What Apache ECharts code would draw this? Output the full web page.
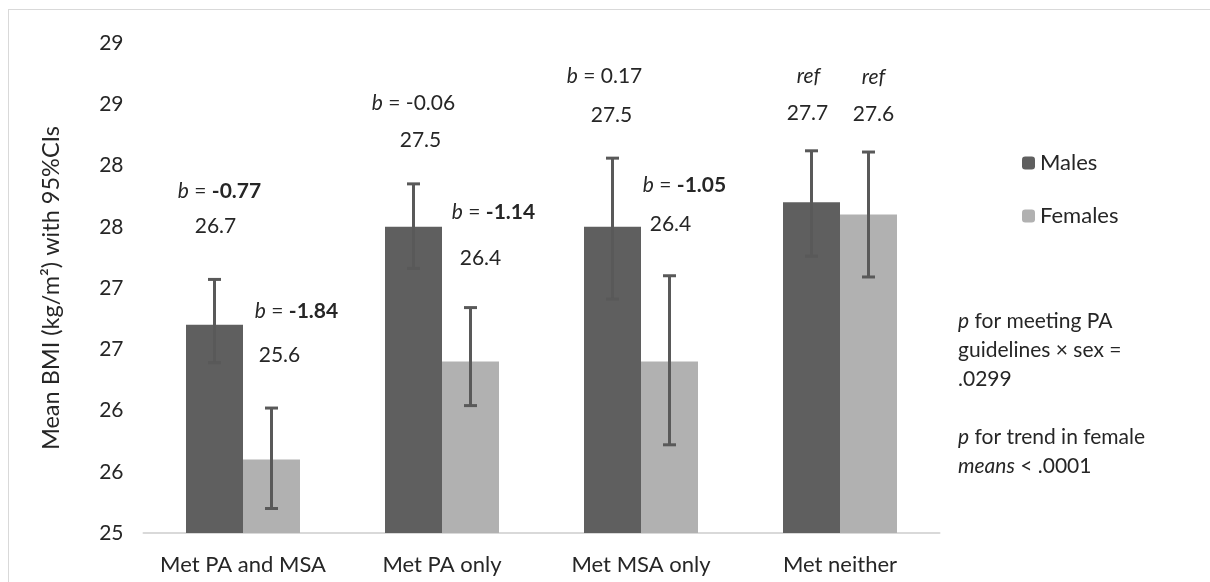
<!DOCTYPE html>
<html>
<head>
<meta charset="utf-8">
<script src="https://cdn.jsdelivr.net/npm/echarts@6/dist/echarts.min.js"></script>
<style>
html, body { margin: 0; padding: 0; background: #fff; }
#frame { position: absolute; left: 8px; top: 9px; width: 1300px; height: 700px; border: 1px solid #d9d9d9; }
#main { position: absolute; left: 0; top: 0; width: 1210px; height: 582px; }
</style>
</head>
<body>
<div id="frame"></div>
<div id="main"></div>
<script>
// categories and values
var categories = ['Met PA and MSA', 'Met PA only', 'Met MSA only', 'Met neither'];
var maleMeans = [26.7, 27.5, 27.5, 27.7];
var femaleMeans = [25.6, 26.4, 26.4, 27.6];
var maleLow = [26.39, 27.16, 26.91, 27.26];
var maleHigh = [27.07, 27.85, 28.06, 28.12];
var femaleLow = [25.20, 26.04, 25.72, 27.09];
var femaleHigh = [26.02, 26.84, 27.10, 28.11];
// b coefficients (null = reference group), bold when significant
var maleB = ['-0.77', '-0.06', '0.17', null];
var femaleB = ['-1.84', '-1.14', '-1.05', null];
var maleSig = [true, false, false, false];
var femaleSig = [true, true, true, false];

// label placement relative to bar top (as moved by hand in the original)
var maleBOffset = [[5, -134], [0, -124], [-8, -151], [-3, -126]];
var maleMOffset = [[1, -99], [7, -87], [-1, -112], [-4, -89]];
var femaleBOffset = [[25, -148], [23, -149], [15, -176], [5, -137]];
var femaleMOffset = [[8, -104], [10, -103], [1, -137], [5, -100]];

var FONT = 'Lato';
var TXT = '#262626';
var BAR_W = 57;

var chart = echarts.init(document.getElementById('main'));

function bText(v, sig) {
    if (v === null) return '{i|ref}';
    return '{i|b} = ' + (sig ? '{bd|' + v + '}' : v);
}

function errSeries(name, means, lo, hi, bs, sig, bOff, mOff, shift) {
    var data = means.map(function (m, i) { return [i, lo[i], hi[i], m]; });
    return {
        name: name + ' CI',
        type: 'custom',
        z: 5,
        silent: true,
        data: data,
        renderItem: function (params, api) {
            var k = params.dataIndex;
            var pLo = api.coord([api.value(0), api.value(1)]);
            var pHi = api.coord([api.value(0), api.value(2)]);
            var pM = api.coord([api.value(0), api.value(3)]);
            var x = pLo[0] + shift;
            var st = { stroke: '#595959', lineWidth: 3 };
            return {
                type: 'group',
                children: [
                    { type: 'line', shape: { x1: x, y1: pLo[1], x2: x, y2: pHi[1] }, style: st },
                    { type: 'line', shape: { x1: x - 6.5, y1: pLo[1], x2: x + 6.5, y2: pLo[1] }, style: st },
                    { type: 'line', shape: { x1: x - 6.5, y1: pHi[1], x2: x + 6.5, y2: pHi[1] }, style: st },
                    {
                        type: 'text',
                        x: x + bOff[k][0], y: pM[1] + bOff[k][1],
                        style: {
                            text: bText(bs[k], sig[k]),
                            fill: TXT, fontFamily: FONT, fontSize: 21,
                            align: 'center', verticalAlign: 'middle',
                            rich: {
                                i: { fontStyle: 'italic', fontFamily: FONT, fontSize: 21, fill: TXT },
                                bd: { fontWeight: 'bold', fontFamily: FONT, fontSize: 21, fill: TXT }
                            }
                        }
                    },
                    {
                        type: 'text',
                        x: x + mOff[k][0], y: pM[1] + mOff[k][1],
                        style: {
                            text: api.value(3).toFixed(1),
                            fill: TXT, fontFamily: FONT, fontSize: 21,
                            align: 'center', verticalAlign: 'middle'
                        }
                    }
                ]
            };
        }
    };
}

var option = {
    animation: false,
    textStyle: { fontFamily: FONT, color: TXT },
    grid: { left: 143.5, right: 270.5, top: 43, bottom: 49 },
    legend: {
        data: ['Males', 'Females'],
        orient: 'vertical',
        left: 1017,
        top: 147,
        itemWidth: 13,
        itemHeight: 13,
        itemGap: 31,
        textStyle: { fontFamily: FONT, fontSize: 22, color: TXT, lineHeight: 20 }
    },
    xAxis: {
        type: 'category',
        data: categories,
        axisTick: { show: false },
        axisLine: { lineStyle: { color: '#d9d9d9', width: 2 } },
        axisLabel: { interval: 0, fontFamily: FONT, fontSize: 22, color: TXT, margin: 21 }
    },
    yAxis: {
        type: 'value',
        min: 25,
        max: 29,
        interval: 0.5,
        name: 'Mean BMI (kg/m²) with 95%CIs',
        nameLocation: 'middle',
        nameGap: 80,
        nameTextStyle: { fontFamily: FONT, fontSize: 23.5, color: TXT },
        splitLine: { show: false },
        axisLine: { show: false },
        axisTick: { show: false },
        axisLabel: {
            fontFamily: FONT, fontSize: 21, color: TXT, margin: 20,
            formatter: function (v) { return String(Math.round(v)); }
        }
    },
    series: [
        {
            name: 'Males', type: 'bar', data: maleMeans,
            barWidth: BAR_W, barGap: '0%',
            itemStyle: { color: '#5f5f5f' }
        },
        {
            name: 'Females', type: 'bar', data: femaleMeans,
            barWidth: BAR_W,
            itemStyle: { color: '#b1b1b1' }
        },
        errSeries('Males', maleMeans, maleLow, maleHigh, maleB, maleSig, maleBOffset, maleMOffset, -BAR_W / 2),
        errSeries('Females', femaleMeans, femaleLow, femaleHigh, femaleB, femaleSig, femaleBOffset, femaleMOffset, BAR_W / 2)
    ],
    graphic: [
        {
            type: 'text',
            left: 958,
            top: 307,
            style: {
                text: '{i|p} for meeting PA\nguidelines × sex =\n.0299\n\n{i|p} for trend in female\n{i|means} < .0001',
                fill: TXT, fontFamily: FONT, fontSize: 21, lineHeight: 29,
                rich: {
                    i: { fontStyle: 'italic', fontFamily: FONT, fontSize: 21, lineHeight: 29, fill: TXT }
                }
            }
        }
    ]
};

chart.setOption(option);
window.addEventListener('resize', function () {
    chart.resize();
});
</script>
</body>
</html>
